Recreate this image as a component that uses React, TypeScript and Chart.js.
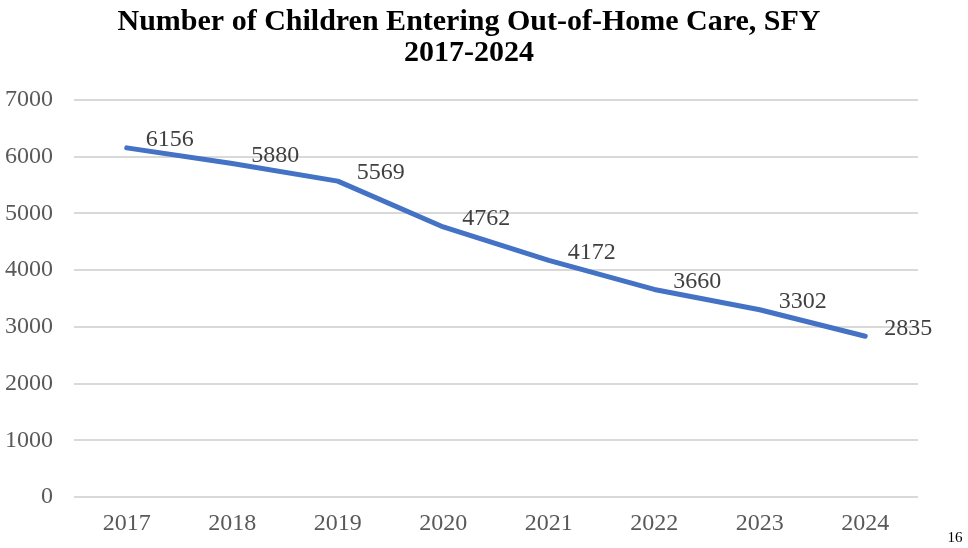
import React, { useEffect, useRef } from "react";
import { Chart, registerables } from "chart.js";

Chart.register(...registerables);

const titleLines = ["Number of Children Entering Out-of-Home Care, SFY", "2017-2024"];
const years = ["2017", "2018", "2019", "2020", "2021", "2022", "2023", "2024"];
const childrenEntering = [6156, 5880, 5569, 4762, 4172, 3660, 3302, 2835];
const yTicksMax = 7000;
const yTickStep = 1000;
const pageNumber = "16";

const SERIF = "'Liberation Serif', 'Times New Roman', Times, serif";

export default function App() {
  const canvasRef = useRef<HTMLCanvasElement | null>(null);

  useEffect(() => {
    document.body.style.margin = "0";
    const canvas = canvasRef.current;
    if (!canvas) return;

    const overlay = {
      id: "overlay",
      afterDatasetsDraw(chart: any) {
        const ctx = chart.ctx;
        const meta = chart.getDatasetMeta(0);
        ctx.save();
        ctx.fillStyle = "#404040";
        ctx.font = `24px ${SERIF}`;
        ctx.textAlign = "left";
        ctx.textBaseline = "middle";
        meta.data.forEach((pt: any, i: number) => {
          ctx.fillText(String(childrenEntering[i]), pt.x + 19, pt.y - 8);
        });
        ctx.restore();
      },
      afterDraw(chart: any) {
        const ctx = chart.ctx;
        ctx.save();
        ctx.fillStyle = "#000000";
        ctx.font = `bold 30px ${SERIF}`;
        ctx.textAlign = "center";
        ctx.textBaseline = "middle";
        ctx.fillText(titleLines[0], 469, 22);
        ctx.fillText(titleLines[1], 469, 53);
        ctx.font = `15px ${SERIF}`;
        ctx.fillText(pageNumber, 955, 538);
        ctx.restore();
      },
    };

    const chart = new Chart(canvas, {
      type: "line",
      data: {
        labels: years,
        datasets: [
          {
            data: childrenEntering,
            borderColor: "#4472C4",
            backgroundColor: "#4472C4",
            borderWidth: 5,
            pointRadius: 0,
            pointHoverRadius: 0,
            tension: 0,
            borderCapStyle: "round",
            borderJoinStyle: "round",
          },
        ],
      },
      options: {
        responsive: false,
        animation: false,
        events: [],
        layout: { padding: { top: 100, right: 50, left: 0, bottom: 0 } },
        plugins: {
          legend: { display: false },
          title: { display: false },
          tooltip: { enabled: false },
        },
        scales: {
          x: {
            offset: true,
            grid: { display: false, drawTicks: false },
            border: { display: false },
            ticks: {
              color: "#595959",
              font: { family: SERIF, size: 24 },
              padding: 12,
            },
            afterFit(scale: any) {
              scale.height = 51;
            },
          },
          y: {
            min: 0,
            max: yTicksMax,
            grid: { color: "#d9d9d9", lineWidth: 2, drawTicks: false },
            border: { display: false },
            ticks: {
              stepSize: yTickStep,
              color: "#595959",
              font: { family: SERIF, size: 24 },
              padding: 21,
              callback: (v: any) => String(v),
            },
            afterFit(scale: any) {
              scale.width = 74;
            },
          },
        },
      },
      plugins: [overlay],
    });

    return () => chart.destroy();
  }, []);

  return (
    <div style={{ position: "absolute", left: 0, top: 0, width: 968, height: 548, background: "#fff" }}>
      <canvas ref={canvasRef} width={968} height={548} style={{ width: 968, height: 548, display: "block" }} />
    </div>
  );
}
